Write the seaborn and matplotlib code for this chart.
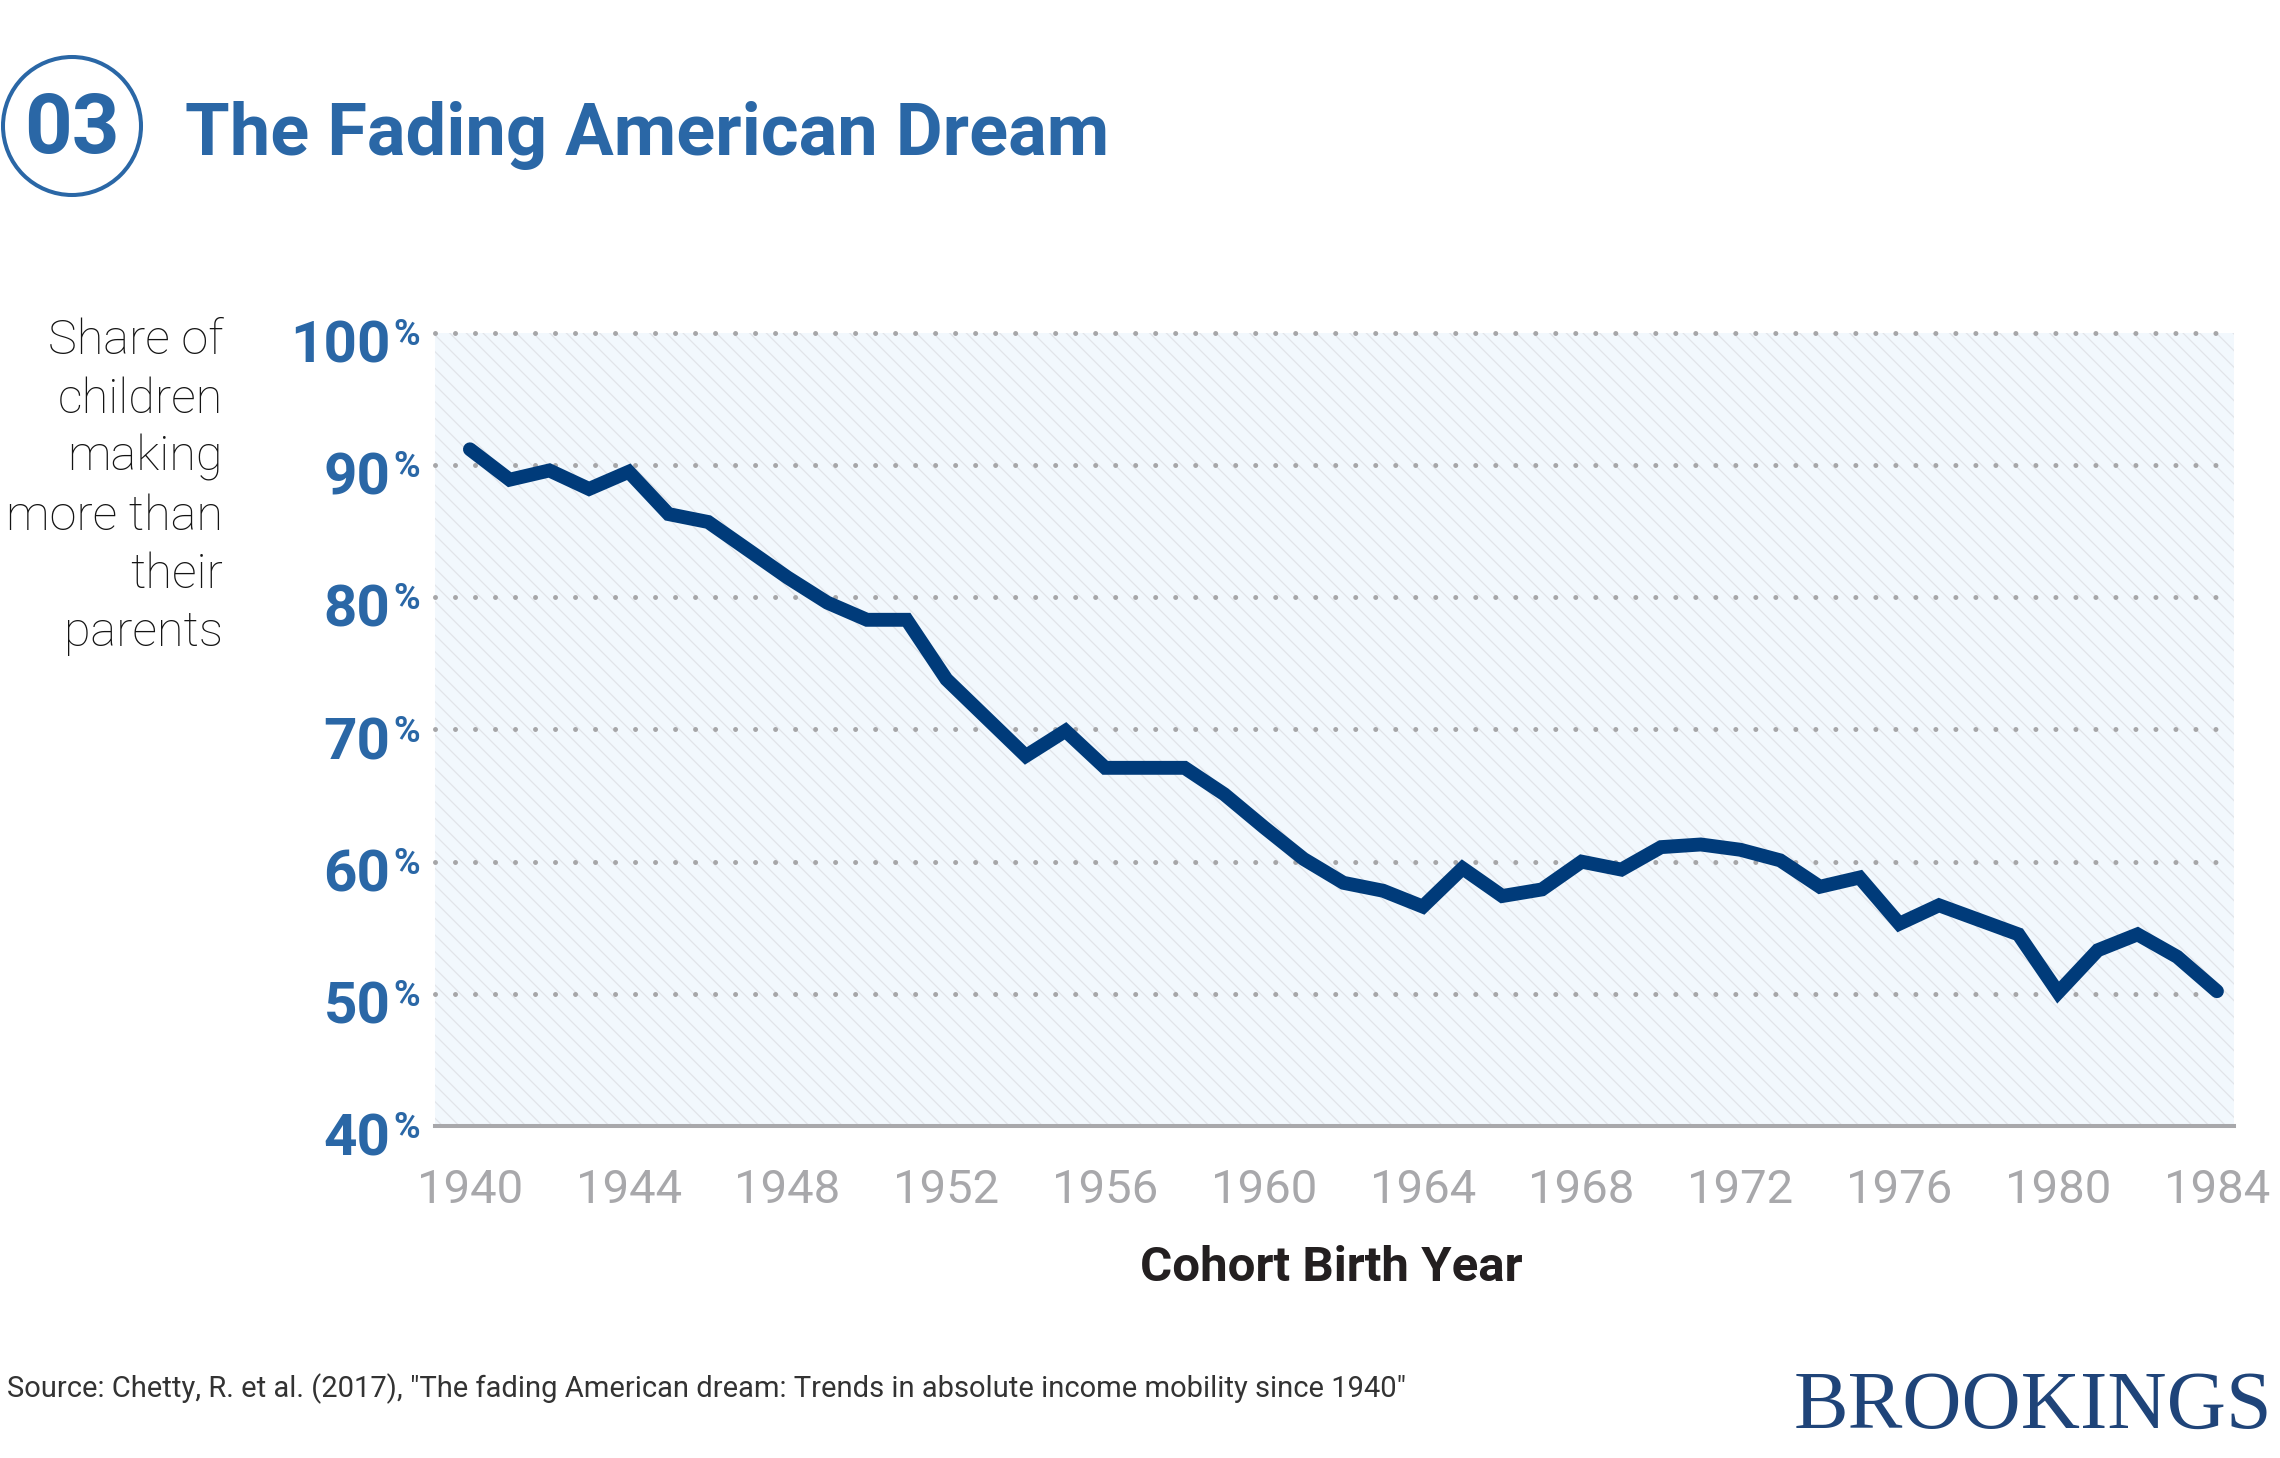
import matplotlib
matplotlib.use("Agg")
import matplotlib.pyplot as plt
import matplotlib.transforms as mtransforms
from matplotlib.patches import Circle, Rectangle
import seaborn as sns
import pandas as pd

# data (Chetty et al. 2017)
years = list(range(1940, 1985))
share = [91.2, 88.9, 89.6, 88.2, 89.5, 86.3, 85.7, 83.6, 81.5, 79.6,
         78.3, 78.3, 73.8, 70.9, 68.0, 69.9, 67.1, 67.1, 67.1, 65.1,
         62.6, 60.2, 58.4, 57.8, 56.6, 59.5, 57.4, 57.9, 60.0, 59.4,
         61.1, 61.3, 60.9, 60.1, 58.1, 58.8, 55.3, 56.7, 55.6, 54.5,
         50.1, 53.3, 54.5, 52.8, 50.2]
y_ticks = [40, 50, 60, 70, 80, 90, 100]
x_ticks = list(range(1940, 1985, 4))

title = "The Fading American Dream"
ylab = "Share of\nchildren\nmaking\nmore than\ntheir\nparents"
xlab = "Cohort Birth Year"
source = ('Source: Chetty, R. et al. (2017), "The fading American dream: '
          'Trends in absolute income mobility since 1940"')

df = pd.DataFrame({"year": years, "share": share})

sns.set_theme(style="white")
plt.rcParams["font.family"] = ["Roboto", "DejaVu Sans"]
plt.rcParams["hatch.linewidth"] = 0.9

BLUE = "#2a67a6"
NAVY = "#003b7a"
GREY = "#a8a8ab"

W, H = 2280, 1458
fig = plt.figure(figsize=(W / 100, H / 100), dpi=100)

def fx(px):
    return px / W

def fy(py):
    return 1 - py / H

ax = fig.add_axes([fx(435), fy(1126), fx(2234) - fx(435), fy(333) - fy(1126)])
ax.set_facecolor("#f2f8fd")
ax.add_patch(Rectangle((0, 0), 1, 1, transform=ax.transAxes, facecolor="none",
                       edgecolor="#e1e4e9", hatch="\\\\", lw=0, zorder=0))

# dotted gridlines
for v in y_ticks[1:]:
    ax.axhline(v, color="#a6a6a8", lw=3.6, linestyle=(0, (0.001, 4.0)),
               dash_capstyle="round", clip_on=False, zorder=1)

sns.lineplot(data=df, x="year", y="share", color=NAVY, linewidth=10, ax=ax, zorder=3)
ax.lines[-1].set_solid_joinstyle("miter")

ax.set_xlim(1939.12, 1984.43)
ax.set_ylim(40, 100)
ax.set_xlabel("")
ax.set_ylabel("")

for s in ["left", "top", "right"]:
    ax.spines[s].set_visible(False)
ax.spines["bottom"].set_color(GREY)
ax.spines["bottom"].set_linewidth(2.9)
ax.spines["bottom"].set_zorder(4)

ax.set_xticks(x_ticks)
ax.set_xticklabels([str(x) for x in x_ticks], fontsize=34, color=GREY)
ax.set_yticks(y_ticks)
ax.set_yticklabels([str(v) for v in y_ticks], fontsize=42, fontweight="bold", color=BLUE)
ax.tick_params(axis="x", length=0, pad=30)
ax.tick_params(axis="y", length=0, pad=32)
shift = mtransforms.ScaledTranslation(0, -8 / 100, fig.dpi_scale_trans)
for lbl in ax.get_yticklabels():
    lbl.set_transform(lbl.get_transform() + shift)

# superscript percent signs
for v in y_ticks:
    ax.annotate("%", xy=(0, v), xycoords=("axes fraction", "data"),
                xytext=(-42 * 0.72, 16 * 0.72), textcoords="offset points",
                ha="left", va="top", fontsize=26, fontweight="bold", color=BLUE,
                annotation_clip=False)

# header
fig.patches.append(Circle((0.72, (H - 126) / 100), 0.69, transform=fig.dpi_scale_trans,
                          fill=False, edgecolor=BLUE, lw=2.9))
fig.text(fx(72), fy(131), "03", ha="center", va="center", fontsize=60,
         fontweight="bold", color=BLUE)
fig.text(fx(185), fy(135), title, ha="left", va="center", fontsize=52,
         fontweight="bold", color=BLUE)

fig.text(fx(223), fy(318), ylab, ha="right", va="top", fontsize=35,
         fontweight="light", color="#141414", linespacing=1.32, multialignment="right")

fig.text(fx(1331), fy(1268), xlab, ha="center", va="center", fontsize=35.5,
         fontweight="bold", color="#231f20")

fig.text(fx(7), fy(1389), source, ha="left", va="center", fontsize=21,
         color="#333333")
fig.text(fx(2272), fy(1408), "BROOKINGS", ha="right", va="center", fontsize=59,
         family=["Liberation Serif", "DejaVu Serif"], color="#1f4479")

fig.savefig("out.png", dpi=100)
